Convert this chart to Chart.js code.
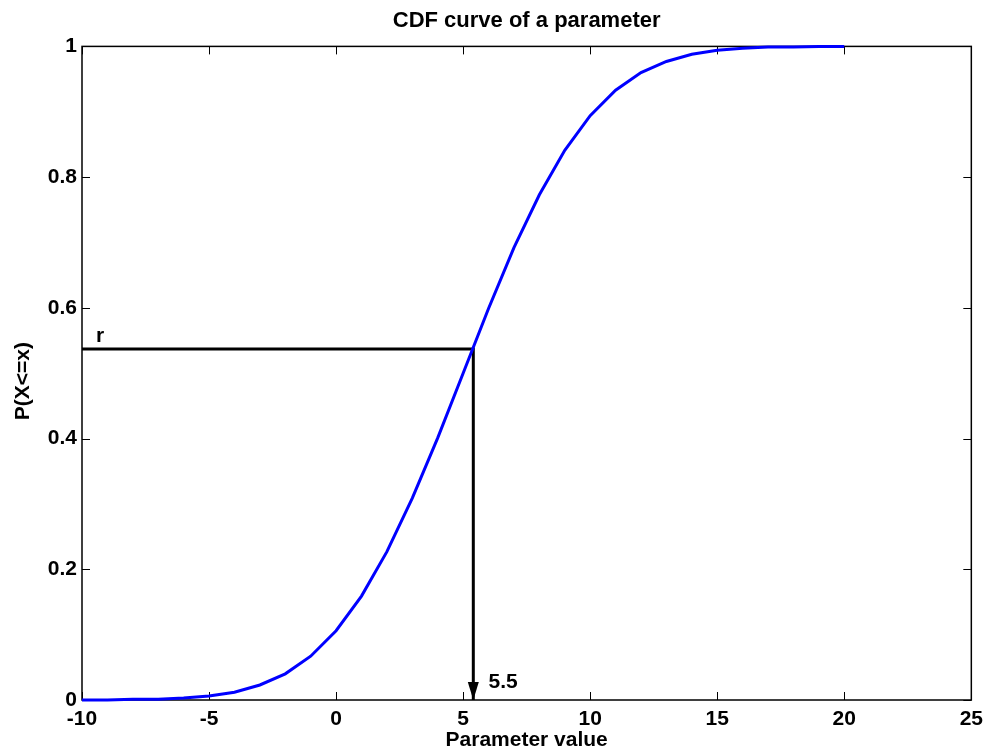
<!DOCTYPE html>
<html>
<head>
<meta charset="utf-8">
<title>CDF curve of a parameter</title>
<script src="https://cdn.jsdelivr.net/npm/chart.js@4.4.0/dist/chart.umd.min.js"></script>
<style>
  html, body { margin: 0; padding: 0; background: #fff; }
  #wrap { width: 990px; height: 753px; position: relative; }
</style>
</head>
<body>
<div id="wrap"><canvas id="cdfChart"></canvas></div>
<script>
// values
const xValues = [-10, -9, -8, -7, -6, -5, -4, -3, -2, -1, 0, 1, 2, 3, 4, 5,
  6, 7, 8, 9, 10, 11, 12, 13, 14, 15, 16, 17, 18, 19, 20];
const cdfValues = [0.000, 0.000, 0.001, 0.001, 0.003, 0.006, 0.012, 0.023, 0.040, 0.067,
  0.106, 0.159, 0.227, 0.309, 0.401, 0.500, 0.599, 0.692, 0.773, 0.841,
  0.894, 0.933, 0.960, 0.977, 0.988, 0.994, 0.997, 0.999, 0.999, 1.000, 1.000];

// lookup line: from the y axis across to the curve, then down to the x axis
const lookupX = [-10, 5.4, 5.4];
const lookupY = [0.537, 0.537, 0];

const xTicks = [-10, -5, 0, 5, 10, 15, 20, 25];
const yTicks = [0, 0.2, 0.4, 0.6, 0.8, 1];
const yTickLabels = ['0', '0.2', '0.4', '0.6', '0.8', '1'];

const rLabel = { text: 'r', x: -9.45, y: 0.548 };
const valueLabel = { text: '5.5', x: 6.0, y: 0.018 };
const yAxisTitle = 'P(X<=x)';

const FONT = '"Liberation Sans", Arial, Helvetica, sans-serif';

const curvePoints = xValues.map((x, i) => ({ x, y: cdfValues[i] }));
const lookupPoints = lookupX.map((x, i) => ({ x, y: lookupY[i] }));

// box around the plot with ticks pointing inwards, like the original figure
const boxPlugin = {
  id: 'boxPlugin',
  beforeDatasetsDraw(chart) {
    const { ctx, chartArea: a, scales: { x, y } } = chart;
    const len = 8;
    ctx.save();
    ctx.strokeStyle = '#000';
    ctx.lineWidth = 1;
    ctx.beginPath();
    xTicks.forEach(v => {
      const px = Math.round(x.getPixelForValue(v)) + 0.5;
      ctx.moveTo(px, a.bottom); ctx.lineTo(px, a.bottom - len);
      ctx.moveTo(px, a.top); ctx.lineTo(px, a.top + len);
    });
    yTicks.forEach(v => {
      const py = Math.round(y.getPixelForValue(v)) + 0.5;
      ctx.moveTo(a.left, py); ctx.lineTo(a.left + len, py);
      ctx.moveTo(a.right, py); ctx.lineTo(a.right - len, py);
    });
    ctx.stroke();
    ctx.lineWidth = 1.5;
    ctx.strokeRect(a.left, a.top, a.right - a.left, a.bottom - a.top);
    ctx.restore();
  },
  afterDatasetsDraw(chart) {
    const { ctx, chartArea: a, scales: { x, y } } = chart;
    ctx.save();
    // arrow head at the end of the lookup line
    const last = lookupPoints.length - 1;
    const tipX = x.getPixelForValue(lookupPoints[last].x);
    const tipY = y.getPixelForValue(lookupPoints[last].y);
    ctx.fillStyle = '#000';
    ctx.beginPath();
    ctx.moveTo(tipX, tipY);
    ctx.lineTo(tipX - 5.5, tipY - 18);
    ctx.lineTo(tipX + 5.5, tipY - 18);
    ctx.closePath();
    ctx.fill();

    ctx.font = 'bold 21px ' + FONT;
    ctx.textBaseline = 'alphabetic';
    ctx.textAlign = 'left';
    [rLabel, valueLabel].forEach(l => {
      ctx.fillText(l.text, x.getPixelForValue(l.x), y.getPixelForValue(l.y));
    });

    // y axis title, sits a little below the middle in the original
    ctx.translate(23, (a.top + a.bottom) / 2 + 8);
    ctx.rotate(-Math.PI / 2);
    ctx.textAlign = 'center';
    ctx.textBaseline = 'middle';
    ctx.fillText(yAxisTitle, 0, 0);
    ctx.restore();
  }
};

new Chart(document.getElementById('cdfChart'), {
  type: 'line',
  data: {
    datasets: [
      {
        label: 'CDF',
        data: curvePoints,
        borderColor: '#0000ff',
        borderWidth: 3,
        pointRadius: 0,
        tension: 0,
        clip: false
      },
      {
        label: 'lookup',
        data: lookupPoints,
        borderColor: '#000',
        borderWidth: 3,
        pointRadius: 0,
        tension: 0,
        clip: false
      }
    ]
  },
  options: {
    responsive: true,
    maintainAspectRatio: false,
    animation: false,
    layout: { padding: { top: 0, right: 17, bottom: 0, left: 0 } },
    plugins: {
      legend: { display: false },
      tooltip: { enabled: false },
      title: {
        display: true,
        fullSize: false,
        text: 'CDF curve of a parameter',
        color: '#000',
        font: { family: FONT, size: 22, weight: 'bold' },
        padding: { top: 8, bottom: 12 }
      }
    },
    scales: {
      x: {
        type: 'linear',
        min: -10,
        max: 25,
        afterFit(scale) { scale.height = 53; },
        afterBuildTicks(scale) { scale.ticks = xTicks.map(v => ({ value: v })); },
        grid: { display: false, drawTicks: false },
        border: { display: false },
        ticks: {
          color: '#000',
          padding: 7,
          maxRotation: 0,
          font: { family: FONT, size: 21, weight: 'bold' },
          callback: v => String(v)
        },
        title: {
          display: true,
          text: 'Parameter value',
          color: '#000',
          font: { family: FONT, size: 21, weight: 'bold' },
          padding: { top: 0, bottom: 0 }
        }
      },
      y: {
        type: 'linear',
        min: 0,
        max: 1,
        afterFit(scale) { scale.width = 82; },
        afterBuildTicks(scale) { scale.ticks = yTicks.map(v => ({ value: v })); },
        grid: { display: false, drawTicks: false },
        border: { display: false },
        ticks: {
          color: '#000',
          padding: 5,
          font: { family: FONT, size: 21, weight: 'bold' },
          callback: v => yTickLabels[yTicks.indexOf(v)] ?? ''
        }
      }
    }
  },
  plugins: [boxPlugin]
});
</script>
</body>
</html>
